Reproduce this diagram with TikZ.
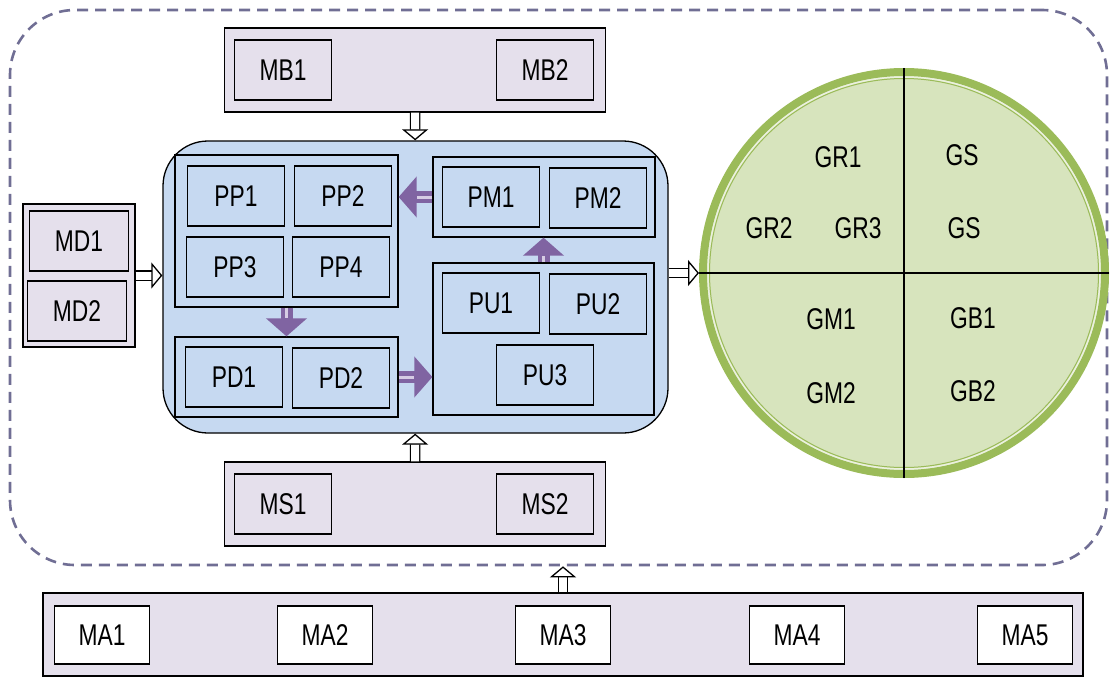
\documentclass[tikz,border=0pt]{standalone}
\usepackage{fontspec}
\setmainfont{Liberation Sans}[FakeStretch=0.76]
\usetikzlibrary{positioning,arrows.meta,calc}
\definecolor{colorlilac}  {RGB}{229,224,236}
\definecolor{colorcore}   {RGB}{198,217,241}
\definecolor{colorgreen}  {RGB}{215,228,189}
\definecolor{colorring}   {RGB}{155,187, 89}
\definecolor{colorringin} {RGB}{235,241,222}
\definecolor{colorflow}   {RGB}{128,100,162}
\definecolor{colorflowin} {RGB}{214,204,228}
\definecolor{colordash}   {RGB}{112,110,148}

\begin{document}
\begin{tikzpicture}[
    x=1pt, y=-1pt,
    font={\fontsize{30}{33}\selectfont},
    base/.style={draw=black,line width=1.3pt,inner sep=0pt,align=center},
    sysline/.style={draw=colordash,line width=2.6pt,dash pattern=on 11pt off 7pt,rounded corners=65pt,inner sep=0pt},
    panel/.style={base,fill=colorlilac},
    mbox/.style={base,fill=colorlilac,minimum width=97pt,minimum height=60pt},
    abox/.style={base,fill=white,minimum width=95pt,minimum height=58pt},
    core/.style={base,fill=colorcore,rounded corners=45pt},
    group/.style={base,fill=colorcore},
    pbox/.style={base,fill=colorcore,minimum width=97pt,minimum height=60pt},
    hollow/.style={draw=black,line width=1.3pt,double=white,double distance=8pt,-{Triangle[open,fill=white,width=26pt,length=11pt]}},
    flow/.style={draw=colorflow,line width=12pt,-{Triangle[width=40pt,length=18pt]},
        postaction={draw=colorflowin,line width=3pt,-,shorten >=18pt}},
    glabel/.style={inner sep=2pt},
]
    \useasboundingbox (0,0) rectangle (1110,677);

    \node[sysline,minimum width=1097pt,minimum height=555pt] (sys) at (558.5,287.5) {};

    % top and bottom modules
    \node[panel,minimum width=381pt,minimum height=84pt] (mb) at (415,70) {};
    \node[mbox] (mb1) at (283,70) {MB1};
    \node[mbox] (mb2) at (545,70) {MB2};

    \node[panel,minimum width=381pt,minimum height=84pt] (ms) at (415,504) {};
    \node[mbox] (ms1) at (283,504) {MS1};
    \node[mbox] (ms2) at (545,504) {MS2};

    \node[panel,minimum width=112pt,minimum height=143pt] (md) at (79,275.5) {};
    \node[mbox,minimum width=99pt] (md1) at (79,241) {MD1};
    \node[mbox,minimum width=99pt] (md2) at (77,311) {MD2};

    % core
    \node[core,minimum width=505pt,minimum height=292pt] (core) at (415.5,287) {};

    \node[group,minimum width=223pt,minimum height=152pt] (pp) at (286.5,231) {};
    \node[pbox] (pp1) at (236,196) {PP1};
    \node[pbox] (pp2) at (343,196) {PP2};
    \node[pbox] (pp3) at (235,267) {PP3};
    \node[pbox] (pp4) at (341,267) {PP4};

    \node[group,minimum width=223pt,minimum height=80pt] (pd) at (286.5,377) {};
    \node[pbox] (pd1) at (234,377) {PD1};
    \node[pbox] (pd2) at (341,378) {PD2};

    \node[group,minimum width=222pt,minimum height=80pt] (pm) at (544,197) {};
    \node[pbox] (pm1) at (491,197) {PM1};
    \node[pbox] (pm2) at (598,198) {PM2};

    \node[group,minimum width=221pt,minimum height=152pt] (pu) at (543.5,339) {};
    \node[pbox] (pu1) at (491,303) {PU1};
    \node[pbox] (pu2) at (598,304) {PU2};
    \node[pbox] (pu3) at (545,375) {PU3};

    % circle
    \node[circle,fill=colorgreen,draw=colorring,line width=8pt,minimum size=402pt,inner sep=0pt] (gold) at (904,273) {};
    \draw[colorringin,line width=1.5pt] (gold.center) circle (196pt);
    \draw[colorring,line width=1pt] (gold.center) circle (194.5pt);
    \draw[line width=1.3pt] (gold.north) -- (gold.south);
    \draw[line width=1.3pt] (gold.west) -- (gold.east);

    \node[glabel] (gr1) at (838,157) {GR1};
    \node[glabel] (gs1) at (962,155) {GS};
    \node[glabel] (gr2) at (769,228) {GR2};
    \node[glabel] (gr3) at (858,228) {GR3};
    \node[glabel] (gs2) at (964,228) {GS};
    \node[glabel] (gm1) at (831,319) {GM1};
    \node[glabel] (gb1) at (973,318) {GB1};
    \node[glabel] (gm2) at (831,393) {GM2};
    \node[glabel] (gb2) at (973,391) {GB2};

    % bottom bar
    \node[panel,minimum width=1040pt,minimum height=83pt] (ma) at (563,634.5) {};
    \node[abox] (ma1) at (102,635) {MA1};
    \node[abox] (ma2) at (325,635) {MA2};
    \node[abox] (ma3) at (563,635) {MA3};
    \node[abox] (ma4) at (797,635) {MA4};
    \node[abox] (ma5) at (1025,635) {MA5};

    % connectors
    \draw[hollow] (mb) -- (core);
    \draw[hollow] (ms) -- (core);
    \draw[hollow] (md.east) -- (md.east -| core.west);
    \draw[hollow] (gold.west -| core.east) -- (gold.west);
    \draw[hollow] (ma.north -| ma3) -- (ma3 |- sys.south);

    \draw[flow] (pm.west |- pm1) -- (pp.east |- pm1);
    \draw[flow] (pp) -- (pd);
    \draw[flow] (pd) -- (pd -| pu.west);
    \draw[flow] (pu.north) -- (pu.north |- pm.south);

\end{tikzpicture}
\end{document}
